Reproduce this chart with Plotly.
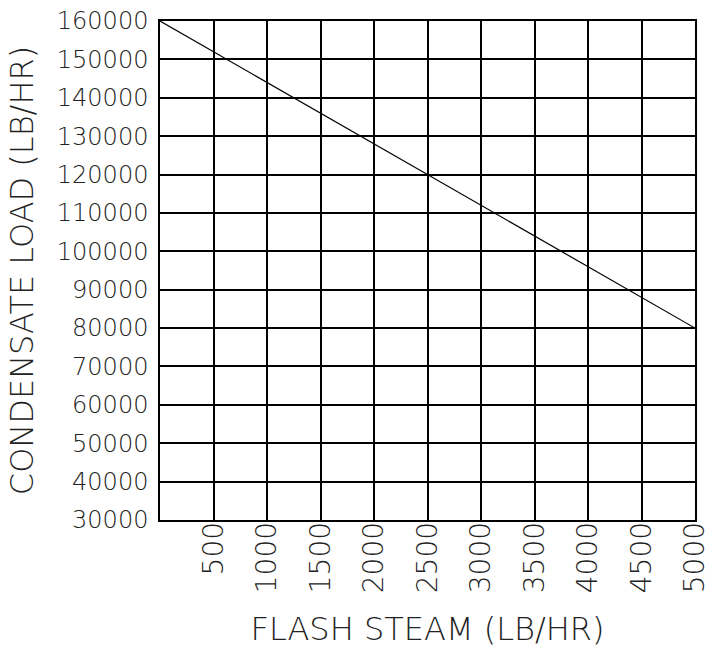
import plotly.graph_objects as go

# Data
flash_steam = [0, 5000]            # lb/hr
condensate_load = [160000, 80000]  # lb/hr
x_ticks = [500, 1000, 1500, 2000, 2500, 3000, 3500, 4000, 4500, 5000]
y_ticks = list(range(30000, 160001, 10000))
x_title = "FLASH STEAM (LB/HR)"
y_title = "CONDENSATE LOAD (LB/HR)"

FONT = "DejaVu Sans"
TXT = "#222"

fig = go.Figure()
fig.add_trace(go.Scatter(
    x=flash_steam, y=condensate_load, mode="lines",
    line=dict(color="black", width=1.2), showlegend=False, hoverinfo="skip"))

fig.update_layout(
    width=707, height=648,
    margin=dict(l=160, r=12, t=21, b=128),
    paper_bgcolor="white", plot_bgcolor="white",
    font=dict(family=FONT, color=TXT, weight=200),
)
fig.update_xaxes(
    range=[0, 5000], tickvals=x_ticks, ticktext=[str(v) for v in x_ticks],
    tickangle=-90, tickfont=dict(size=28, family=FONT, color=TXT, weight=200),
    showgrid=True, gridcolor="black", gridwidth=1.5,
    showline=True, linecolor="black", linewidth=1.5, mirror=True,
    ticks="", ticklabelstandoff=-11, zeroline=False, automargin=False,
    ticklabeloverflow="allow",
    title=dict(text=x_title, font=dict(size=32, family=FONT, color=TXT, weight=200), standoff=28),
)
fig.update_yaxes(
    range=[30000, 160000], tickvals=y_ticks, ticktext=[str(v) for v in y_ticks],
    tickfont=dict(size=24, family=FONT, color=TXT, weight=200),
    showgrid=True, gridcolor="black", gridwidth=1.5,
    showline=True, linecolor="black", linewidth=1.5, mirror=True,
    ticks="", ticklabelstandoff=5, zeroline=False, automargin=False,
    ticklabeloverflow="allow",
    title=dict(text=y_title, font=dict(size=32, family=FONT, color=TXT, weight=200), standoff=14),
)

fig.write_html(
    "out.html",
    config={"displayModeBar": False},
    post_script="document.body.style.margin='0';document.body.style.overflow='hidden';",
)
